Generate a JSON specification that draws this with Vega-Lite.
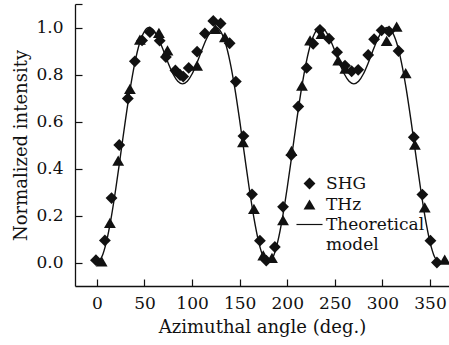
{
  "$schema": "https://vega.github.io/schema/vega-lite/v6.json",
  "width": 374,
  "height": 282,
  "autosize": {"type": "none"},
  "padding": {"left": 75, "top": 4, "right": 0, "bottom": 59},
  "background": "white",
  "config": {
    "view": {"stroke": null},
    "font": "DejaVu Serif",
    "axis": {
      "grid": false,
      "domainColor": "#111",
      "tickColor": "#111",
      "labelColor": "#111",
      "titleColor": "#111",
      "labelFont": "DejaVu Serif",
      "titleFont": "DejaVu Serif",
      "labelFontSize": 17,
      "titleFontSize": 18,
      "titleFontWeight": "normal",
      "domainWidth": 1.3,
      "tickWidth": 1.2,
      "tickSize": -7
    },
    "legend": {
      "labelFont": "DejaVu Serif",
      "labelFontSize": 17,
      "labelColor": "#111"
    }
  },
  "datasets": {
    "model": [
      {"angle": 0, "intensity": 0.0}, {"angle": 5, "intensity": 0.022}, {"angle": 10, "intensity": 0.088},
      {"angle": 15, "intensity": 0.19}, {"angle": 20, "intensity": 0.318}, {"angle": 25, "intensity": 0.461},
      {"angle": 30, "intensity": 0.606}, {"angle": 35, "intensity": 0.74}, {"angle": 40, "intensity": 0.852},
      {"angle": 45, "intensity": 0.935}, {"angle": 50, "intensity": 0.984}, {"angle": 55, "intensity": 1.0},
      {"angle": 60, "intensity": 0.986}, {"angle": 65, "intensity": 0.95}, {"angle": 70, "intensity": 0.901},
      {"angle": 75, "intensity": 0.848}, {"angle": 80, "intensity": 0.802}, {"angle": 85, "intensity": 0.771},
      {"angle": 90, "intensity": 0.76}, {"angle": 95, "intensity": 0.771}, {"angle": 100, "intensity": 0.802},
      {"angle": 105, "intensity": 0.848}, {"angle": 110, "intensity": 0.901}, {"angle": 115, "intensity": 0.95},
      {"angle": 120, "intensity": 0.986}, {"angle": 125, "intensity": 1.0}, {"angle": 130, "intensity": 0.984},
      {"angle": 135, "intensity": 0.935}, {"angle": 140, "intensity": 0.852}, {"angle": 145, "intensity": 0.74},
      {"angle": 150, "intensity": 0.606}, {"angle": 155, "intensity": 0.461}, {"angle": 160, "intensity": 0.318},
      {"angle": 165, "intensity": 0.19}, {"angle": 170, "intensity": 0.088}, {"angle": 175, "intensity": 0.022},
      {"angle": 180, "intensity": 0.0}, {"angle": 185, "intensity": 0.022}, {"angle": 190, "intensity": 0.088},
      {"angle": 195, "intensity": 0.19}, {"angle": 200, "intensity": 0.318}, {"angle": 205, "intensity": 0.461},
      {"angle": 210, "intensity": 0.606}, {"angle": 215, "intensity": 0.74}, {"angle": 220, "intensity": 0.852},
      {"angle": 225, "intensity": 0.935}, {"angle": 230, "intensity": 0.984}, {"angle": 235, "intensity": 1.0},
      {"angle": 240, "intensity": 0.986}, {"angle": 245, "intensity": 0.95}, {"angle": 250, "intensity": 0.901},
      {"angle": 255, "intensity": 0.848}, {"angle": 260, "intensity": 0.802}, {"angle": 265, "intensity": 0.771},
      {"angle": 270, "intensity": 0.76}, {"angle": 275, "intensity": 0.771}, {"angle": 280, "intensity": 0.802},
      {"angle": 285, "intensity": 0.848}, {"angle": 290, "intensity": 0.901}, {"angle": 295, "intensity": 0.95},
      {"angle": 300, "intensity": 0.986}, {"angle": 305, "intensity": 1.0}, {"angle": 310, "intensity": 0.984},
      {"angle": 315, "intensity": 0.935}, {"angle": 320, "intensity": 0.852}, {"angle": 325, "intensity": 0.74},
      {"angle": 330, "intensity": 0.606}, {"angle": 335, "intensity": 0.461}, {"angle": 340, "intensity": 0.318},
      {"angle": 345, "intensity": 0.19}, {"angle": 350, "intensity": 0.088}, {"angle": 355, "intensity": 0.022},
      {"angle": 360, "intensity": 0.0}
    ],
    "points": [
      {"series": "SHG", "angle": -1, "intensity": 0.01},
      {"series": "SHG", "angle": 8.4, "intensity": 0.094},
      {"series": "SHG", "angle": 15.4, "intensity": 0.274},
      {"series": "SHG", "angle": 23.5, "intensity": 0.5},
      {"series": "SHG", "angle": 32.5, "intensity": 0.698},
      {"series": "SHG", "angle": 39.9, "intensity": 0.856},
      {"series": "SHG", "angle": 47.5, "intensity": 0.945},
      {"series": "SHG", "angle": 55.7, "intensity": 0.98},
      {"series": "SHG", "angle": 66, "intensity": 0.944},
      {"series": "SHG", "angle": 72.5, "intensity": 0.874},
      {"series": "SHG", "angle": 82.5, "intensity": 0.817},
      {"series": "SHG", "angle": 87.5, "intensity": 0.798},
      {"series": "SHG", "angle": 90.7, "intensity": 0.791},
      {"series": "SHG", "angle": 96.5, "intensity": 0.828},
      {"series": "SHG", "angle": 105.3, "intensity": 0.897},
      {"series": "SHG", "angle": 113.5, "intensity": 0.975},
      {"series": "SHG", "angle": 122.3, "intensity": 1.028},
      {"series": "SHG", "angle": 130, "intensity": 1.017},
      {"series": "SHG", "angle": 139.5, "intensity": 0.933},
      {"series": "SHG", "angle": 146, "intensity": 0.77},
      {"series": "SHG", "angle": 154, "intensity": 0.538},
      {"series": "SHG", "angle": 163, "intensity": 0.29},
      {"series": "SHG", "angle": 171.3, "intensity": 0.093},
      {"series": "SHG", "angle": 178, "intensity": 0.008},
      {"series": "SHG", "angle": 187, "intensity": 0.066},
      {"series": "SHG", "angle": 195.6, "intensity": 0.237},
      {"series": "SHG", "angle": 204.3, "intensity": 0.457},
      {"series": "SHG", "angle": 211.6, "intensity": 0.664},
      {"series": "SHG", "angle": 220.4, "intensity": 0.828},
      {"series": "SHG", "angle": 227.3, "intensity": 0.931},
      {"series": "SHG", "angle": 234.4, "intensity": 0.99},
      {"series": "SHG", "angle": 244, "intensity": 0.952},
      {"series": "SHG", "angle": 252.4, "intensity": 0.895},
      {"series": "SHG", "angle": 260.7, "intensity": 0.838},
      {"series": "SHG", "angle": 267.7, "intensity": 0.814},
      {"series": "SHG", "angle": 274.6, "intensity": 0.82},
      {"series": "SHG", "angle": 285.1, "intensity": 0.883},
      {"series": "SHG", "angle": 291.3, "intensity": 0.95},
      {"series": "SHG", "angle": 299.2, "intensity": 0.988},
      {"series": "SHG", "angle": 307, "intensity": 0.983},
      {"series": "SHG", "angle": 317, "intensity": 0.9},
      {"series": "SHG", "angle": 333, "intensity": 0.533},
      {"series": "SHG", "angle": 342, "intensity": 0.289},
      {"series": "SHG", "angle": 350.5, "intensity": 0.093},
      {"series": "SHG", "angle": 357.3, "intensity": 0.0},
      {"series": "THz", "angle": 5, "intensity": 0.005},
      {"series": "THz", "angle": 13.7, "intensity": 0.169},
      {"series": "THz", "angle": 22.4, "intensity": 0.434},
      {"series": "THz", "angle": 34.7, "intensity": 0.739},
      {"series": "THz", "angle": 45.2, "intensity": 0.948},
      {"series": "THz", "angle": 65.2, "intensity": 0.977},
      {"series": "THz", "angle": 74.2, "intensity": 0.903},
      {"series": "THz", "angle": 105.3, "intensity": 0.838},
      {"series": "THz", "angle": 124.5, "intensity": 0.994},
      {"series": "THz", "angle": 134.5, "intensity": 0.959},
      {"series": "THz", "angle": 153.5, "intensity": 0.512},
      {"series": "THz", "angle": 165, "intensity": 0.228},
      {"series": "THz", "angle": 174.8, "intensity": 0.03},
      {"series": "THz", "angle": 184, "intensity": 0.02},
      {"series": "THz", "angle": 195.6, "intensity": 0.18},
      {"series": "THz", "angle": 204.5, "intensity": 0.475},
      {"series": "THz", "angle": 215.5, "intensity": 0.753},
      {"series": "THz", "angle": 224, "intensity": 0.945},
      {"series": "THz", "angle": 236, "intensity": 0.973},
      {"series": "THz", "angle": 253.6, "intensity": 0.86},
      {"series": "THz", "angle": 261, "intensity": 0.825},
      {"series": "THz", "angle": 304.5, "intensity": 0.943},
      {"series": "THz", "angle": 315, "intensity": 1.004},
      {"series": "THz", "angle": 324.5, "intensity": 0.806},
      {"series": "THz", "angle": 334.2, "intensity": 0.502},
      {"series": "THz", "angle": 344.5, "intensity": 0.235},
      {"series": "THz", "angle": 365.5, "intensity": 0.012}
    ]
  },
  "encoding": {
    "x": {
      "field": "angle", "type": "quantitative",
      "scale": {"domain": [-23, 370], "nice": false, "zero": false},
      "axis": {
        "title": "Azimuthal angle (deg.)",
        "values": [0, 50, 100, 150, 200, 250, 300, 350],
        "labelPadding": 16,
        "titlePadding": 7
      }
    },
    "y": {
      "field": "intensity", "type": "quantitative",
      "scale": {"domain": [-0.1, 1.1], "nice": false, "zero": false},
      "axis": {
        "title": "Normalized intensity",
        "values": [0, 0.2, 0.4, 0.6, 0.8, 1.0, 1.1],
        "labelExpr": "datum.value > 1.05 ? '' : format(datum.value, '.1f')",
        "labelPadding": 19,
        "titlePadding": 5
      }
    }
  },
  "layer": [
    {
      "data": {"name": "model"},
      "mark": {"type": "line", "color": "#111", "strokeWidth": 1.4, "interpolate": "monotone"}
    },
    {
      "data": {"name": "points"},
      "mark": {"type": "point", "filled": true, "color": "#111", "opacity": 1, "size": 140},
      "encoding": {
        "shape": {
          "field": "series", "type": "nominal",
          "scale": {
            "domain": ["SHG", "THz", "Theoretical", "model"],
            "range": ["diamond", "triangle-up", "M-2.2,-0.1L2.2,-0.1L2.2,0.1L-2.2,0.1Z", "M0,0L0,0Z"]
          },
          "legend": {
            "title": null,
            "orient": "none",
            "legendX": 226,
            "legendY": 171,
            "padding": 0,
            "rowPadding": 2,
            "symbolSize": 140,
            "labelOffset": 8,
            "encode": {
              "symbols": {
                "update": {
                  "fill": {"value": "#111"},
                  "stroke": {"value": "#111"},
                  "strokeWidth": {"value": 0.6},
                  "opacity": {"value": 1}
                }
              }
            }
          }
        }
      }
    }
  ]
}
